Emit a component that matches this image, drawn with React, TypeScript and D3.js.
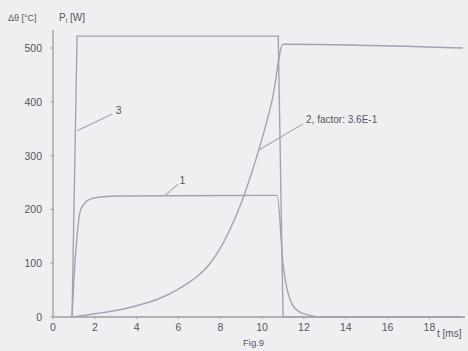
import React from "react";
import * as d3 from "d3";

const xTicks = [0, 2, 4, 6, 8, 10, 12, 14, 16, 18];
const yTicks = [0, 100, 200, 300, 400, 500];

// curve 1: temperature rise
const curve1T = [0.91, 1.0, 1.15, 1.29, 1.48, 1.77, 2.25, 3.2, 10.72, 11.0, 11.2, 11.43, 11.8, 12.3, 12.8, 19.6];
const curve1V = [0, 70, 150, 195, 210, 219, 223, 225, 226, 98, 50, 24, 9, 3, 0, 0];

// curve 2: scaled with factor 3.6E-1
const curve2T = [0.95, 2, 3, 4, 5, 6, 7, 7.5, 8, 8.5, 9, 9.5, 10, 10.5, 11.0, 19.6];
const curve2V = [0, 6, 12, 21, 33, 52, 79, 99, 128, 166, 212, 268, 332, 407, 507, 500];

// curve 3: power pulse
const curve3T = [0.91, 1.15, 10.77, 11.0, 19.6];
const curve3V = [0, 522, 522, 0, 0];

const W = 468;
const H = 351;

export default function App() {
  const x = d3.scaleLinear().domain([0, 19.7]).range([53, 465]);
  const y = d3.scaleLinear().domain([0, 500]).range([317, 48]);

  const smooth = d3
    .line<[number, number]>()
    .x((d) => x(d[0]))
    .y((d) => y(d[1]))
    .curve(d3.curveMonotoneX);
  const straight = d3
    .line<[number, number]>()
    .x((d) => x(d[0]))
    .y((d) => y(d[1]));

  const c1 = curve1T.map((t, i) => [t, curve1V[i]] as [number, number]);
  const c2 = curve2T.map((t, i) => [t, curve2V[i]] as [number, number]);
  const c3 = curve3T.map((t, i) => [t, curve3V[i]] as [number, number]);

  const lineColor = "#a2a2b6";
  const axisColor = "#9c9ca6";
  const textColor = "#555560";
  const font = "Liberation Sans, Arial, sans-serif";

  return (
    <svg
      width={W}
      height={H}
      style={{ position: "absolute", left: 0, top: 0, background: "#efeff2" }}
      fontFamily={font}
    >
      <rect x={0} y={0} width={W} height={H} fill="#efeff2" />
      {/* axes */}
      <line x1={x(0)} x2={x(0)} y1={30} y2={y(0)} stroke={axisColor} strokeWidth={1.3} />
      <line x1={x(0)} x2={465} y1={y(0)} y2={y(0)} stroke={axisColor} strokeWidth={1.3} />
      {yTicks.map((v) => (
        <g key={"y" + v}>
          <line x1={x(0) - 2.5} x2={x(0)} y1={y(v)} y2={y(v)} stroke={axisColor} strokeWidth={1} />
          <text x={42} y={y(v) + 4} fontSize={10.5} textAnchor="end" fill={textColor}>
            {v}
          </text>
        </g>
      ))}
      {xTicks.map((v) => (
        <g key={"x" + v}>
          <line x1={x(v)} x2={x(v)} y1={y(0)} y2={y(0) + 2} stroke={axisColor} strokeWidth={1} />
          <text x={x(v)} y={331} fontSize={10.5} textAnchor="middle" fill={textColor}>
            {v}
          </text>
        </g>
      ))}
      {/* axis titles */}
      <text x={8} y={21} fontSize={9} fill={textColor}>
        Δθ [°C]
      </text>
      <text x={59} y={21} fontSize={10} fill={textColor}>
        P
        <tspan fontSize={7} dy={2}>i</tspan>
        <tspan dy={-2}> [W]</tspan>
      </text>
      <text x={437} y={337} fontSize={10} fill={textColor}>
        t [ms]
      </text>
      <text x={243} y={346} fontSize={9.5} fill={textColor}>
        Fig.9
      </text>

      {/* curves */}
      <path d={straight(c3) || ""} fill="none" stroke={lineColor} strokeWidth={1.4} />
      <path d={smooth(c1) || ""} fill="none" stroke={lineColor} strokeWidth={1.4} />
      <path d={smooth(c2) || ""} fill="none" stroke={lineColor} strokeWidth={1.4} />

      {/* annotations */}
      <line x1={x(1.15)} y1={y(346)} x2={x(2.82)} y2={y(377)} stroke={lineColor} strokeWidth={1.1} />
      <text x={x(3.0)} y={y(378)} fontSize={10.5} fill={textColor}>
        3
      </text>
      <line x1={x(5.36)} y1={y(226)} x2={x(5.98)} y2={y(247)} stroke={lineColor} strokeWidth={1.1} />
      <text x={x(6.05)} y={y(248)} fontSize={10.5} fill={textColor}>
        1
      </text>
      <line x1={x(9.82)} y1={y(310)} x2={x(11.96)} y2={y(359)} stroke={lineColor} strokeWidth={1.1} />
      <text x={x(12.1)} y={y(360)} fontSize={10} fill={textColor}>
        2,  factor: 3.6E-1
      </text>
    </svg>
  );
}
